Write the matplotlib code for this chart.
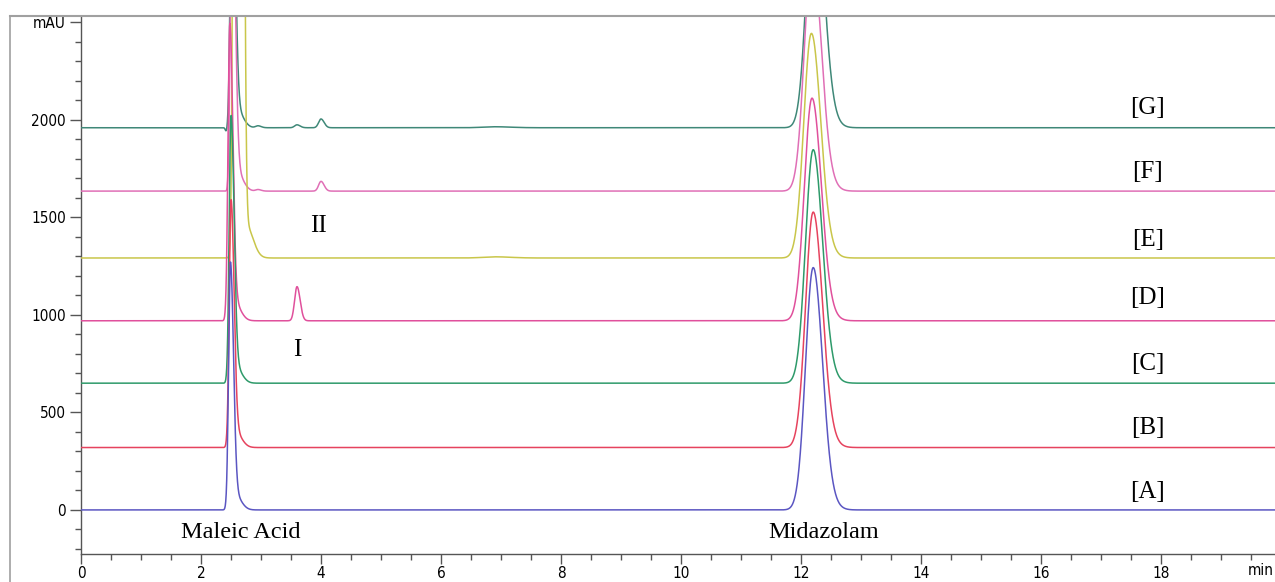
import numpy as np
import matplotlib
matplotlib.use("Agg")
import matplotlib.pyplot as plt
from matplotlib import font_manager
from matplotlib.lines import Line2D

# ---------------- data ----------------
traces = ["A", "B", "C", "D", "E", "F", "G"]
baselines = [0, 320, 650, 970, 1292, 1635, 1960]
colors = ["#5b56c2", "#e6435e", "#2e9a6a", "#e0509c", "#c9c64a", "#e06fb6", "#3f8878"]

# maleic acid peak (retention time, height) per trace
maleic_rt = [2.49, 2.50, 2.50, 2.48, 2.62, 2.52, 2.52]
maleic_h = [1250, 1250, 1350, 1500, 30000, 1600, 1500]
# midazolam peak (retention time, height) per trace
midaz_rt = [12.20, 12.20, 12.20, 12.18, 12.17, 12.18, 12.22]
midaz_h = [1230, 1195, 1185, 1130, 1140, 1200, 1250]
# minor peaks: trace -> list of (rt, height)
minor_peaks = {
    "D": [(3.60, 175)],
    "E": [(6.90, 6)],
    "F": [(2.44, -10), (2.95, 8), (4.00, 50)],
    "G": [(2.42, -20), (2.95, 10), (3.60, 15), (4.00, 45), (6.90, 5)],
}

xticks = [0, 2, 4, 6, 8, 10, 12, 14, 16, 18]
yticks = [0, 500, 1000, 1500, 2000]

# ---------------- figure ----------------
W, H = 1275, 582
fig = plt.figure(figsize=(W / 100, H / 100), dpi=100)
ax = fig.add_axes([81 / W, (H - 554) / H, 1 - 81 / W, (554 - 16) / H])

# pick a condensed sans font if available
tick_fp = None
for f in font_manager.fontManager.ttflist:
    if f.name == "Liberation Sans Narrow" and f.weight in (400, "normal", "regular") and f.style == "normal":
        tick_fp = font_manager.FontProperties(fname=f.fname)
        break
if tick_fp is None:
    for f in font_manager.fontManager.ttflist:
        if f.name == "DejaVu Sans" and str(f.stretch) in ("condensed", "semi-condensed") \
                and f.weight in (400, "normal", "regular") and f.style == "normal":
            tick_fp = font_manager.FontProperties(fname=f.fname)
            break
if tick_fp is None:
    tick_fp = font_manager.FontProperties(family="Liberation Sans")
tick_fp.set_size(11)

t = np.arange(0, 19.9, 0.004)


def bigauss(t, c, h, sl, sr):
    s = np.where(t < c, sl, sr)
    return h * np.exp(-0.5 * ((t - c) / s) ** 2)


for i, name in enumerate(traces):
    y = np.full_like(t, float(baselines[i]))
    if name == "E":
        y += bigauss(t, maleic_rt[i], maleic_h[i], 0.040, 0.047)
        y += bigauss(t, 2.76, 160, 0.02, 0.11)
    else:
        y += bigauss(t, maleic_rt[i], maleic_h[i], 0.03, 0.05)
        y += bigauss(t, maleic_rt[i] + 0.08, 0.06 * maleic_h[i], 0.05, 0.10)
    y += bigauss(t, midaz_rt[i], midaz_h[i], 0.125, 0.15)
    y += bigauss(t, midaz_rt[i] + 0.18, 0.05 * midaz_h[i], 0.1, 0.16)
    for rt, hh in minor_peaks.get(name, []):
        sig = 0.2 if rt > 6 else (0.015 if hh < 0 else 0.04)
        y += bigauss(t, rt, hh, sig, sig * 1.3)
    ax.plot(t, y, color=colors[i], lw=1.1, zorder=10 - i)

ax.set_xlim(0, 19.9)
ax.set_ylim(-226, 2533)

for s in ["top", "right"]:
    ax.spines[s].set_visible(False)
for s in ["left", "bottom"]:
    ax.spines[s].set_color("#555555")
    ax.spines[s].set_linewidth(1.0)

ax.set_xticks(xticks)
ax.set_xticks(np.arange(0, 19.9, 0.5), minor=True)
ax.set_yticks(yticks + [2500])
ax.set_yticklabels([str(v) for v in yticks] + ["mAU"])
ax.set_yticks(np.arange(-200, 2533, 100), minor=True)
ax.tick_params(axis="y", which="major", length=8, width=1, color="#555555", pad=3)
ax.tick_params(axis="x", which="major", length=7, width=1, color="#555555", pad=1.5)
ax.tick_params(axis="both", which="minor", length=4, width=1, color="#555555")
for lab in ax.get_xticklabels() + ax.get_yticklabels():
    lab.set_fontproperties(tick_fp)
ax.text(0.999, -0.016, "min", fontproperties=tick_fp, ha="right", va="top",
        transform=ax.transAxes, clip_on=False)

serif = "Liberation Serif"
label_x = 17.78
label_y = [92, 421, 749, 1087, 1385, 1733, 2062]
for name, ly in zip(traces, label_y):
    ax.text(label_x, ly, f"[{name}]", fontsize=18, family=serif, ha="center", va="center")
ax.text(2.67, -118, "Maleic Acid", fontsize=17.5, family=serif, ha="center", va="center")
ax.text(12.37, -118, "Midazolam", fontsize=17.5, family=serif, ha="center", va="center")
ax.text(3.6, 820, "I", fontsize=18, family=serif, ha="center", va="center")
ax.text(3.95, 1456, "II", fontsize=18, family=serif, ha="center", va="center")

# outer frame lines (chromatogram window border)
fig.add_artist(Line2D([10 / W, 10 / W], [0, (H - 16) / H], transform=fig.transFigure,
                      color="#a0a0a0", lw=1.2))
fig.add_artist(Line2D([10 / W, 1], [(H - 16) / H, (H - 16) / H], transform=fig.transFigure,
                      color="#a0a0a0", lw=1.5))

fig.savefig("out.png", dpi=100)
